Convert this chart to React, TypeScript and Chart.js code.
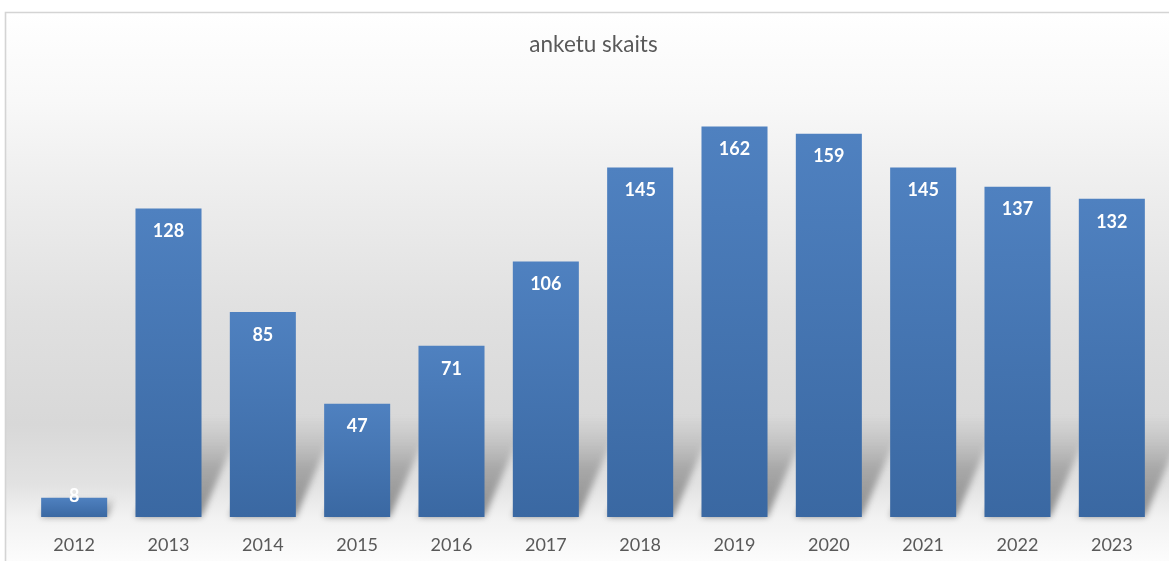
import React, { useEffect, useRef } from "react";
import { Chart, registerables } from "chart.js";

Chart.register(...registerables);

const years = ["2012", "2013", "2014", "2015", "2016", "2017", "2018", "2019", "2020", "2021", "2022", "2023"];
const counts = [8, 128, 85, 47, 71, 106, 145, 162, 159, 145, 137, 132];
const titleText = "anketu skaits";
const yMax = 180;

const FONT = "Lato, 'Open Sans', sans-serif";

export default function App() {
  const ref = useRef<HTMLCanvasElement>(null);

  useEffect(() => {
    const canvas = ref.current!;

    const bgPlugin = {
      id: "bgFrame",
      beforeDraw(chart: any) {
        const ctx = chart.ctx as CanvasRenderingContext2D;
        const W = chart.width;
        const H = chart.height;
        ctx.save();
        ctx.fillStyle = "#ffffff";
        ctx.fillRect(0, 0, W, H);
        const g = ctx.createLinearGradient(0, 13, 0, H);
        g.addColorStop(0, "#ffffff");
        g.addColorStop(0.16, "#f8f8f8");
        g.addColorStop(0.35, "#ececec");
        g.addColorStop(0.55, "#e0e0e0");
        g.addColorStop(0.75, "#d8d8d8");
        g.addColorStop(0.86, "#e2e2e2");
        g.addColorStop(0.92, "#f2f2f2");
        g.addColorStop(1, "#fcfcfc");
        ctx.fillStyle = g;
        ctx.fillRect(6, 13, W, H);
        ctx.strokeStyle = "#d4d4d4";
        ctx.lineWidth = 1.6;
        ctx.beginPath();
        ctx.moveTo(5.5, H + 2);
        ctx.lineTo(5.5, 12.5);
        ctx.lineTo(W + 2, 12.5);
        ctx.stroke();
        // title
        ctx.fillStyle = "#595959";
        ctx.font = `22.5px ${FONT}`;
        ctx.textAlign = "center";
        ctx.textBaseline = "alphabetic";
        ctx.fillText(titleText, 593.5, 52);
        ctx.restore();
      },
    };

    const shadowPlugin = {
      id: "barShadow",
      beforeDatasetsDraw(chart: any) {
        const ctx = chart.ctx as CanvasRenderingContext2D;
        const meta = chart.getDatasetMeta(0);
        ctx.save();
        ctx.filter = "blur(3px)";
        meta.data.forEach((el: any) => {
          const half = el.width / 2;
          const left = el.x - half;
          const right = el.x + half;
          const base = el.base;
          const h = Math.min(base - el.y, 100);
          const k = 0.43;
          const g = ctx.createLinearGradient(0, base, 0, base - h);
          g.addColorStop(0, "rgba(85,85,85,0.65)");
          g.addColorStop(0.5, "rgba(105,105,105,0.45)");
          g.addColorStop(1, "rgba(130,130,130,0)");
          ctx.fillStyle = g;
          ctx.beginPath();
          ctx.moveTo(left, base);
          ctx.lineTo(right, base);
          ctx.lineTo(right + k * h, base - h);
          ctx.lineTo(left + k * h, base - h);
          ctx.closePath();
          ctx.fill();
        });
        ctx.restore();
      },
    };

    const labelPlugin = {
      id: "barLabels",
      afterDatasetsDraw(chart: any) {
        const ctx = chart.ctx as CanvasRenderingContext2D;
        const meta = chart.getDatasetMeta(0);
        ctx.save();
        ctx.fillStyle = "#ffffff";
        ctx.font = `bold 18px ${FONT}`;
        ctx.textAlign = "center";
        ctx.textBaseline = "middle";
        meta.data.forEach((el: any, i: number) => {
          const cy = Math.min(el.y + 23, el.base - 21);
          ctx.fillText(String(counts[i]), el.x, cy);
        });
        ctx.restore();
      },
    };

    const chart = new Chart(canvas, {
      type: "bar",
      data: {
        labels: years,
        datasets: [
          {
            data: counts,
            backgroundColor: (context: any) => {
              const c = context.chart;
              const ys = c.scales && c.scales.y;
              if (!ys || context.dataIndex === undefined) return "#4677b4";
              const top = ys.getPixelForValue(counts[context.dataIndex]);
              const base = ys.getPixelForValue(0);
              if (!isFinite(top) || !isFinite(base) || base - top < 1) return "#4677b4";
              const g = c.ctx.createLinearGradient(0, top, 0, base);
              g.addColorStop(0, "#4f81c0");
              g.addColorStop(1, "#3a68a2");
              return g;
            },
            borderWidth: 0,
            barPercentage: 0.7,
            categoryPercentage: 1,
          },
        ],
      },
      options: {
        responsive: false,
        animation: false,
        devicePixelRatio: 1,
        layout: { padding: { left: 27, right: 10, top: 83, bottom: 4 } },
        plugins: {
          legend: { display: false },
          title: { display: false },
          tooltip: { enabled: false },
        },
        scales: {
          x: {
            grid: { display: false, drawTicks: false },
            border: { display: false },
            ticks: {
              color: "#595959",
              font: { family: FONT, size: 18 },
              padding: 17,
              maxRotation: 0,
            },
            afterFit: (s: any) => {
              s.height = 40;
            },
          },
          y: {
            display: false,
            min: 0,
            max: yMax,
          },
        },
      },
      plugins: [bgPlugin, shadowPlugin, labelPlugin],
    });

    return () => chart.destroy();
  }, []);

  return (
    <div style={{ position: "fixed", left: 0, top: 0, width: 1169, height: 561 }}>
      <canvas ref={ref} width={1169} height={561} style={{ display: "block", width: 1169, height: 561 }} />
    </div>
  );
}
